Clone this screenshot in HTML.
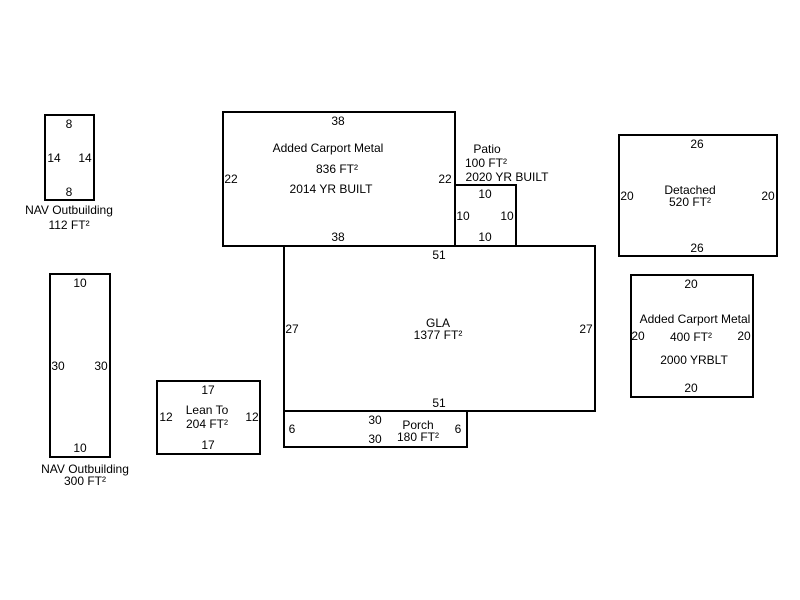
<!DOCTYPE html>
<html><head><meta charset="utf-8"><style>
html,body{margin:0;padding:0;background:#fff;}
svg{display:block;}
text{font-family:"Liberation Sans",Arial,sans-serif;font-size:12px;fill:#000;}
rect{fill:none;stroke:#000;stroke-width:2;}
</style></head><body>
<svg width="800" height="600" viewBox="0 0 800 600" text-anchor="middle">
<rect x="45" y="115" width="49" height="85"/>
<text x="69" y="128">8</text><text x="54" y="162">14</text><text x="85" y="162">14</text><text x="69" y="196">8</text>
<text x="69" y="214">NAV Outbuilding</text><text x="69" y="229">112 FT²</text>

<rect x="223" y="112" width="232" height="134"/>
<text x="338" y="125">38</text><text x="328" y="152">Added Carport Metal</text><text x="337" y="173">836 FT²</text><text x="331" y="193">2014 YR BUILT</text>
<text x="231" y="183">22</text><text x="445" y="183">22</text><text x="338" y="241">38</text>

<rect x="455" y="185" width="61" height="61"/>
<text x="487" y="153">Patio</text><text x="486" y="167">100 FT²</text><text x="507" y="181">2020 YR BUILT</text>
<text x="485" y="198">10</text><text x="463" y="220">10</text><text x="507" y="220">10</text><text x="485" y="241">10</text>

<rect x="284" y="246" width="311" height="165"/>
<text x="439" y="259">51</text><text x="438" y="327">GLA</text><text x="438" y="339">1377 FT²</text>
<text x="292" y="333">27</text><text x="586" y="333">27</text><text x="439" y="407">51</text>

<rect x="284" y="411" width="183" height="36"/>
<text x="292" y="433">6</text><text x="375" y="424">30</text><text x="375" y="443">30</text>
<text x="418" y="429">Porch</text><text x="418" y="441">180 FT²</text><text x="458" y="433">6</text>

<rect x="619" y="135" width="158" height="121"/>
<text x="697" y="148">26</text><text x="690" y="194">Detached</text><text x="690" y="206">520 FT²</text>
<text x="627" y="200">20</text><text x="768" y="200">20</text><text x="697" y="252">26</text>

<rect x="631" y="275" width="122" height="122"/>
<text x="691" y="288">20</text><text x="695" y="323">Added Carport Metal</text><text x="691" y="341">400 FT²</text>
<text x="638" y="340">20</text><text x="744" y="340">20</text><text x="694" y="364">2000 YRBLT</text><text x="691" y="392">20</text>

<rect x="50" y="274" width="60" height="183"/>
<text x="80" y="287">10</text><text x="58" y="370">30</text><text x="101" y="370">30</text><text x="80" y="452">10</text>
<text x="85" y="473">NAV Outbuilding</text><text x="85" y="485">300 FT²</text>

<rect x="157" y="381" width="103" height="73"/>
<text x="208" y="394">17</text><text x="207" y="414">Lean To</text><text x="207" y="428">204 FT²</text>
<text x="166" y="421">12</text><text x="252" y="421">12</text><text x="208" y="449">17</text>
</svg>
</body></html>
